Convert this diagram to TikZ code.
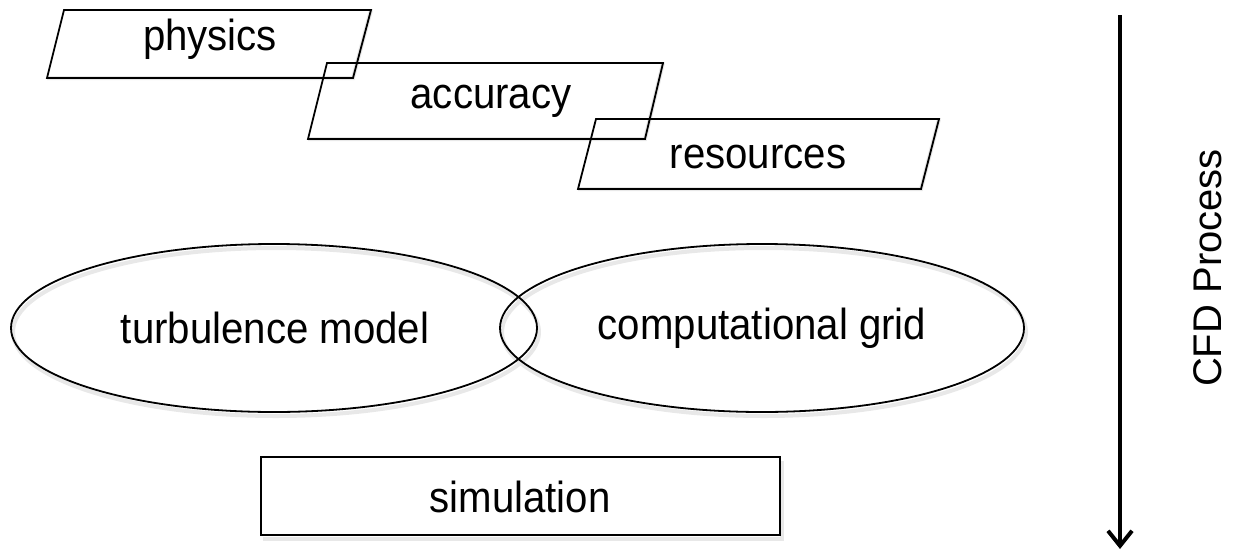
\documentclass[tikz,border=0pt]{standalone}
\usepackage{fontspec}
\setmainfont{Liberation Sans}
\usetikzlibrary{arrows.meta}
\begin{document}
\begin{tikzpicture}[x=1pt,y=-1pt,
  shapeline/.style={draw=black, line width=1.8pt},
  shade/.style={draw=black!9, line width=4pt, shift={(2pt,-4pt)}},
  lbl/.style={font=\fontsize{41}{45}\selectfont, inner sep=0pt, xscale=0.98, yscale=1.06}
]
\useasboundingbox (0,0) rectangle (1246,554);
% parallelogram corners
\coordinate (p1) at (64,10);  \coordinate (p2) at (371,10);
\coordinate (p3) at (353,78); \coordinate (p4) at (47,78);
\coordinate (a1) at (327,63); \coordinate (a2) at (663,63);
\coordinate (a3) at (645,139);\coordinate (a4) at (308,139);
\coordinate (r1) at (596,119);\coordinate (r2) at (939,119);
\coordinate (r3) at (921,189);\coordinate (r4) at (578,189);
% soft shadows
\draw[shade] (p2) -- (p3) -- (p4);
\draw[shade] (a2) -- (a3) -- (a4);
\draw[shade] (r2) -- (r3) -- (r4);
\draw[shade] (274,328) ellipse [x radius=263, y radius=84];
\draw[shade] (762,328) ellipse [x radius=262, y radius=84];
\draw[shade] (780,457) -- (780,535) -- (261,535);
% parallelograms
\draw[shapeline] (p1) -- (p2) -- (p3) -- (p4) -- cycle;
\draw[shapeline] (a1) -- (a2) -- (a3) -- (a4) -- cycle;
\draw[shapeline] (r1) -- (r2) -- (r3) -- (r4) -- cycle;
\node[lbl] (physics) at (210,39) {physics};
\node[lbl] (accuracy) at (491,101) {accuracy};
\node[lbl] (resources) at (758,157) {resources};
% ellipses
\draw[shapeline] (274,328) ellipse [x radius=263, y radius=84];
\draw[shapeline] (762,328) ellipse [x radius=262, y radius=84];
\node[lbl] (turb) at (275,328) {turbulence model};
\node[lbl] (grid) at (762,328) {computational grid};
% simulation
\node[draw=black, line width=1.8pt, minimum width=519pt, minimum height=78pt, inner sep=0pt] (sim) at (520.5,496) {};
\node[lbl] (simlbl) at (520,497) {simulation};
% arrow
\coordinate (atop) at (1120,15);
\coordinate (abot) at (1120,549);
\draw[line width=4pt, -{Straight Barb[length=15pt, width=24pt, line width=4pt]}] (atop) -- (abot);
\node[rotate=90, font=\fontsize{40}{44}\selectfont, inner sep=0pt] (cfd) at (1208,268) {CFD Process};
\end{tikzpicture}
\end{document}
